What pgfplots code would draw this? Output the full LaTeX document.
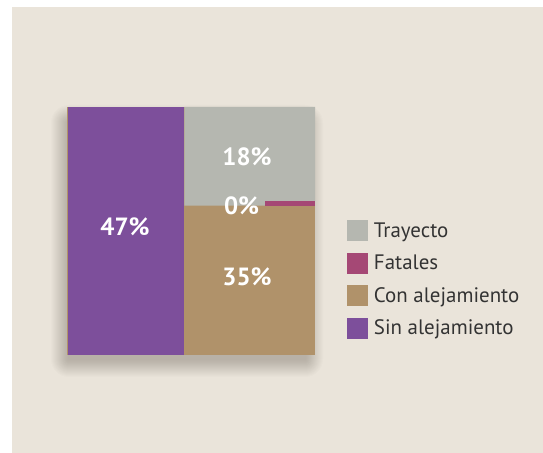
\documentclass[border=0pt]{standalone}
\usepackage{pgfplots}
\pgfplotsset{compat=1.18}
\usepackage{fontspec}
\setmainfont{PT Sans}
\definecolor{bgbeige}{HTML}{EAE4DA}
\definecolor{cpurple}{HTML}{7D4F9B}
\definecolor{cgray}{HTML}{B5B7B0}
\definecolor{ctan}{HTML}{B0926A}
\definecolor{cpink}{HTML}{A54875}
\definecolor{ctext}{HTML}{333333}
\definecolor{cshadow}{HTML}{5A5248}
\begin{document}
\begin{tikzpicture}
\fill[white] (0,0) rectangle (543bp,453bp);
\fill[bgbeige] (12bp,0) rectangle (543bp,446bp);
% soft drop shadow
\foreach \r in {1,...,18} {
  \fill[cshadow, opacity=0.02, rounded corners=\r bp]
    ({(69-\r)*1bp},{(94-\r)*1bp}) rectangle ({(305+\r)*1bp},{(330+\r)*1bp});
}
\begin{axis}[
  at={(67bp,98bp)}, anchor=south west,
  scale only axis, width=248bp, height=248bp,
  xmin=0, xmax=100, ymin=0, ymax=100,
  hide axis, clip=false,
  reverse legend,
  legend style={draw=none, fill=none, inner sep=0pt, outer sep=0pt,
    at={(1.129,0.544)}, anchor=north west,
    row sep=11.5bp,
    nodes={inner sep=0pt, anchor=base west, text depth=0pt, font=\fontsize{21}{23}\selectfont, text=ctext},
    /tikz/every odd column/.append style={column sep=6bp}},
  legend image code/.code={\fill[#1] (0bp,-4bp) rectangle (21bp,17bp);},
]
% base square
\addplot[fill=ctan, draw=none, forget plot]
  coordinates {(0,0) (100,0) (100,100) (0,100)} --cycle;
% Sin alejamiento 47%
\addplot[fill=cpurple, draw=none] coordinates {(0.5,0) (47,0) (47,100) (0.5,100)} --cycle;
\addlegendentry{Sin alejamiento}
% Con alejamiento 35%
\addplot[fill=ctan, draw=none] coordinates {(47,0) (100,0) (100,60.2) (47,60.2)} --cycle;
\addlegendentry{Con alejamiento}
% Fatales 0%
\addplot[fill=cpink, draw=none] coordinates {(79.8,60.2) (100,60.2) (100,62.1) (79.8,62.1)} --cycle;
\addlegendentry{Fatales}
% Trayecto 18%
\addplot[fill=cgray, draw=none] coordinates {(47.3,60.2) (79.8,60.2) (79.8,62.1) (100,62.1) (100,100) (47.3,100)} --cycle;
\addlegendentry{Trayecto}
\begin{scope}[every node/.style={text=white, font=\fontsize{25}{28}\selectfont\bfseries}]
\node at (axis cs:23.4,51.6) {47\%};
\node at (axis cs:72.6,79.8) {18\%};
\node at (axis cs:70.4,60.2) {0\%};
\node at (axis cs:72.6,31.5) {35\%};
\end{scope}
\end{axis}
\pgfresetboundingbox
\useasboundingbox (0,0) rectangle (543bp,453bp);
\end{tikzpicture}
\end{document}
